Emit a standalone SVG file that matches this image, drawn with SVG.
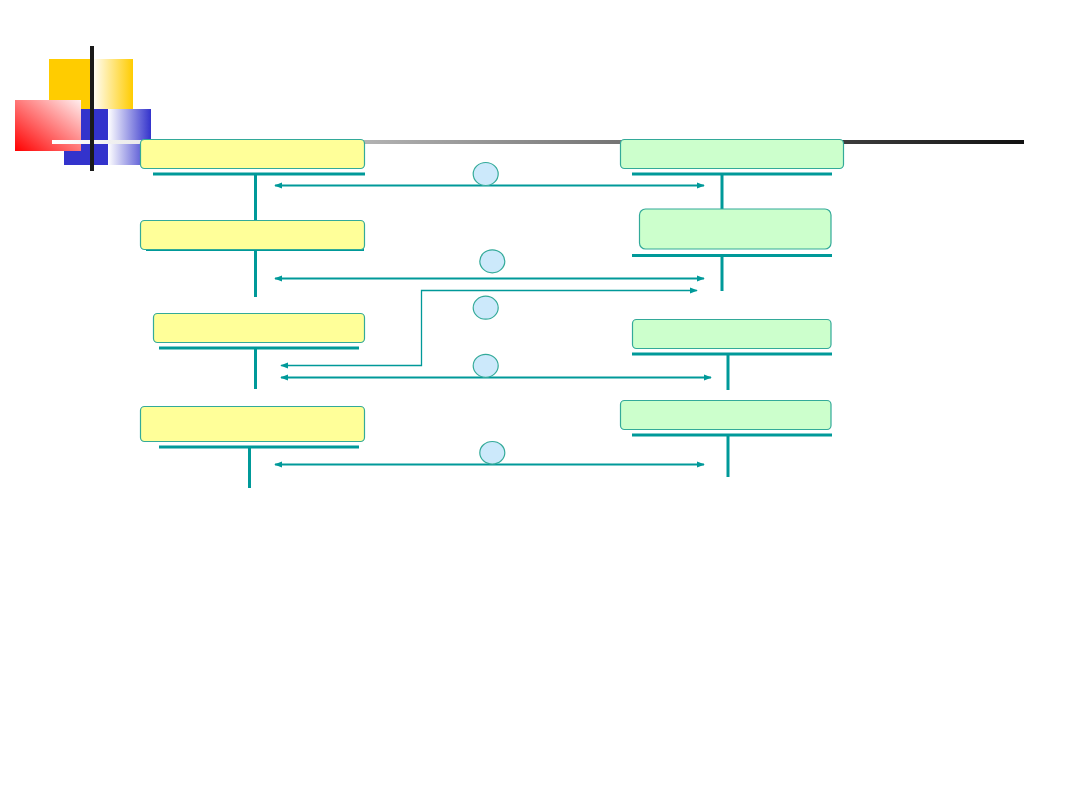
<svg xmlns="http://www.w3.org/2000/svg" width="1080" height="810" viewBox="0 0 1080 810">
<defs>
<linearGradient id="gY" x1="0" y1="0" x2="1" y2="0"><stop offset="0" stop-color="#ffffff"/><stop offset="1" stop-color="#ffcc00"/></linearGradient>
<linearGradient id="gB" x1="0" y1="0" x2="1" y2="0"><stop offset="0" stop-color="#ffffff"/><stop offset="1" stop-color="#3333cc"/></linearGradient>
<linearGradient id="gR" x1="0" y1="1" x2="1" y2="0"><stop offset="0" stop-color="#ff0000"/><stop offset="1" stop-color="#ffeeee"/></linearGradient>
<linearGradient id="gL" gradientUnits="userSpaceOnUse" x1="52" y1="0" x2="1024" y2="0"><stop offset="0" stop-color="#ffffff"/><stop offset="1" stop-color="#111111"/></linearGradient>
<marker id="ah" viewBox="0 0 10 10" refX="9" refY="5" markerWidth="8" markerHeight="8" markerUnits="userSpaceOnUse" orient="auto-start-reverse"><path d="M0,1 L10,5 L0,9 z" fill="#009999"/></marker>
</defs>
<style>
.y{fill:#ffff99;stroke:#33aa99;stroke-width:1.2}
.g{fill:#ccffcc;stroke:#33aa99;stroke-width:1.2}
.ul{stroke:#009999;stroke-width:3;fill:none}
.vl{stroke:#009999;stroke-width:3;fill:none}
.ar{stroke:#009999;stroke-width:2;fill:none;marker-start:url(#ah);marker-end:url(#ah)}
.el{stroke:#009999;stroke-width:1.3;fill:none;marker-start:url(#ah);marker-end:url(#ah)}
.c{fill:#cce9fb;stroke:#33aa99;stroke-width:1.2}
</style>
<rect width="1080" height="810" fill="#ffffff"/>
<g id="logo">
<rect x="49" y="59" width="43" height="81" fill="#ffcc00"/>
<rect x="92" y="59" width="41" height="81" fill="url(#gY)"/>
<rect x="64" y="109" width="44" height="56" fill="#3333cc"/>
<rect x="108" y="109" width="43" height="56" fill="url(#gB)"/>
<rect x="15" y="100" width="66" height="51" fill="url(#gR)"/>
<rect x="52" y="140" width="972" height="4" fill="url(#gL)"/>
<rect x="90" y="46" width="4" height="125" fill="#1a1a1a"/>
</g>
<g id="connectors">
<line class="ul" x1="153" y1="174" x2="365" y2="174"/>
<line class="vl" x1="255.5" y1="174" x2="255.5" y2="220"/>
<line class="ul" x1="146" y1="249.5" x2="364" y2="249.5"/>
<line class="vl" x1="255.5" y1="250" x2="255.5" y2="297"/>
<line class="ul" x1="159" y1="348" x2="359" y2="348"/>
<line class="vl" x1="255.5" y1="348" x2="255.5" y2="389"/>
<line class="ul" x1="159" y1="447" x2="359" y2="447"/>
<line class="vl" x1="249.5" y1="447" x2="249.5" y2="488"/>
<line class="ul" x1="632" y1="174" x2="832" y2="174"/>
<line class="vl" x1="722" y1="174" x2="722" y2="209"/>
<line class="ul" x1="632" y1="255.5" x2="832" y2="255.5"/>
<line class="vl" x1="722" y1="255" x2="722" y2="291"/>
<line class="ul" x1="632" y1="354" x2="832" y2="354"/>
<line class="vl" x1="728" y1="354" x2="728" y2="390"/>
<line class="ul" x1="632" y1="435" x2="832" y2="435"/>
<line class="vl" x1="728" y1="435" x2="728" y2="477"/>
<line class="ar" x1="275" y1="185.5" x2="704" y2="185.5"/>
<line class="ar" x1="275" y1="278.5" x2="704" y2="278.5"/>
<polyline class="el" points="281,365.5 421.5,365.5 421.5,290.5 697,290.5"/>
<line class="ar" x1="281" y1="377.5" x2="711" y2="377.5"/>
<line class="ar" x1="275" y1="464.5" x2="704" y2="464.5"/>
</g>
<g id="n1"><rect class="y" x="140.5" y="139.5" width="224" height="29" rx="4"/></g>
<g id="n2"><rect class="y" x="140.5" y="220.5" width="224" height="29" rx="4"/></g>
<g id="n3"><rect class="y" x="153.5" y="313.5" width="211" height="29" rx="4"/></g>
<g id="n4"><rect class="y" x="140.5" y="406.5" width="224" height="35" rx="4"/></g>
<g id="m1"><rect class="g" x="620.5" y="139.5" width="223" height="29" rx="4"/></g>
<g id="m2"><rect class="g" x="639.5" y="209" width="191.5" height="40" rx="6"/></g>
<g id="m3"><rect class="g" x="632.5" y="319.5" width="198.5" height="29" rx="4"/></g>
<g id="m4"><rect class="g" x="620.5" y="400.5" width="210.5" height="29" rx="4"/></g>
<g id="c1"><ellipse class="c" cx="485.7" cy="174" rx="12.5" ry="11.5"/></g>
<g id="c2"><ellipse class="c" cx="492.3" cy="261.3" rx="12.5" ry="11.5"/></g>
<g id="c3"><ellipse class="c" cx="485.7" cy="307.7" rx="12.5" ry="11.5"/></g>
<g id="c4"><ellipse class="c" cx="485.7" cy="365.8" rx="12.5" ry="11.5"/></g>
<g id="c5"><ellipse class="c" cx="492.3" cy="452.8" rx="12.5" ry="11.3"/></g>
</svg>
